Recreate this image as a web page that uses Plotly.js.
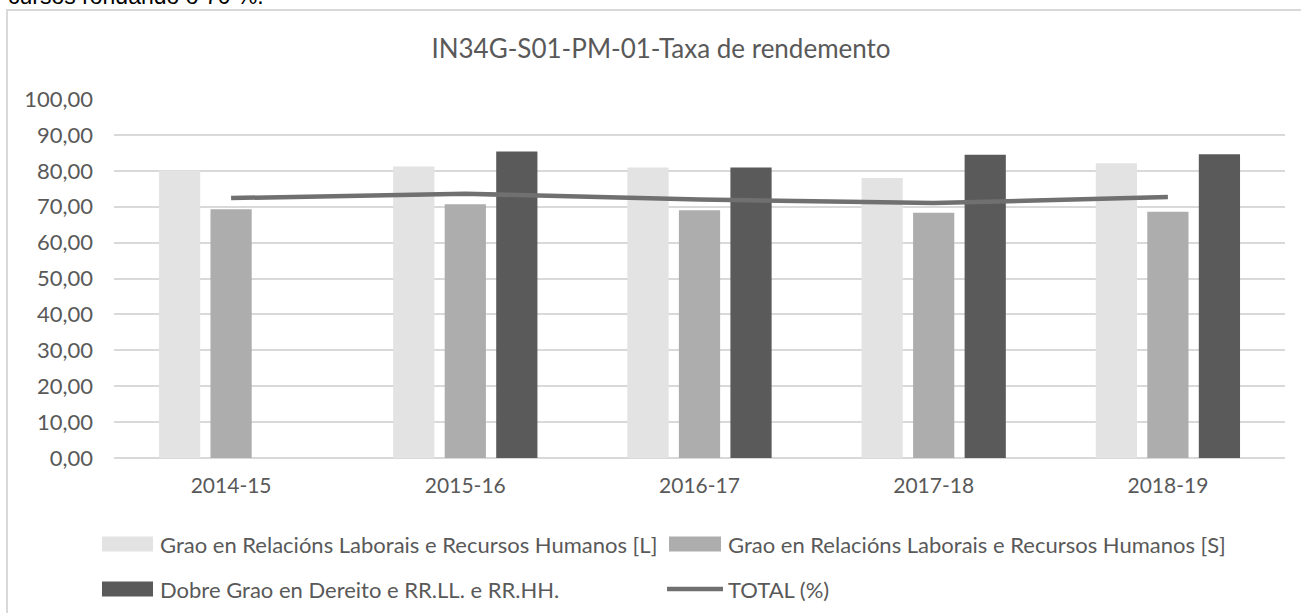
<!DOCTYPE html>
<html>
<head>
<meta charset="utf-8">
<script src="https://cdn.plot.ly/plotly-3.0.1.min.js"></script>
<style>html,body{margin:0;padding:0;background:#fff;}#chart{width:1301px;height:613px;}</style>
</head>
<body>
<div id="chart"></div>
<script>
// ---- data ----
const categories = ["2014-15", "2015-16", "2016-17", "2017-18", "2018-19"];
const seriesL = [80.1, 81.2, 80.9, 78.0, 82.1];
const seriesS = [69.3, 70.7, 69.0, 68.3, 68.6];
const seriesD = [null, 85.4, 80.9, 84.5, 84.6];
const seriesTotal = [72.4, 73.6, 72.0, 71.0, 72.7];
const names = [
  "Grao en Relacións Laborais e Recursos Humanos [L]",
  "Grao en Relacións Laborais e Recursos Humanos [S]",
  "Dobre Grao en Dereito e RR.LL. e RR.HH.",
  "TOTAL (%)"
];
const chartTitle = "IN34G-S01-PM-01-Taxa de rendemento";
const pageText = "cursos rondando o 70 %.";

// ---- styling ----
const W = 1301, H = 613;
const M = {l: 114, r: 16, t: 99, b: 155};
const PW = W - M.l - M.r, PH = H - M.t - M.b;
const px2x = p => (p - M.l) / PW;
const py2y = p => (H - M.b - p) / PH;
const FONT = "Lato, 'Open Sans', sans-serif";
const TXT = "#595959";
const cL = "#e3e3e3", cS = "#adadad", cD = "#5a5a5a", cT = "#707070";

const traces = [
  {type: "bar", name: names[0], x: categories, y: seriesL, marker: {color: cL}, showlegend: false, hoverinfo: "y"},
  {type: "bar", name: names[1], x: categories, y: seriesS, marker: {color: cS}, showlegend: false, hoverinfo: "y"},
  {type: "bar", name: names[2], x: categories, y: seriesD, marker: {color: cD}, showlegend: false, hoverinfo: "y"},
  {type: "scatter", mode: "lines", name: names[3], x: categories, y: seriesTotal,
   line: {color: cT, width: 4.5}, showlegend: false, hoverinfo: "y"}
];

// custom legend (wide Excel-style swatches)
const legendItems = [
  {sx0: 102, sx1: 153, tx: 158, cy: 544, color: cL, kind: "rect", text: names[0]},
  {sx0: 669, sx1: 721, tx: 726, cy: 544, color: cS, kind: "rect", text: names[1]},
  {sx0: 102, sx1: 153, tx: 158, cy: 589, color: cD, kind: "rect", text: names[2]},
  {sx0: 667, sx1: 723, tx: 726, cy: 589, color: cT, kind: "line", text: names[3]}
];
const shapes = [];
const annotations = [];
legendItems.forEach(it => {
  if (it.kind === "rect") {
    shapes.push({type: "rect", xref: "paper", yref: "paper",
      x0: px2x(it.sx0), x1: px2x(it.sx1), y0: py2y(it.cy + 7.5), y1: py2y(it.cy - 7.5),
      fillcolor: it.color, line: {width: 0}});
  } else {
    shapes.push({type: "line", xref: "paper", yref: "paper",
      x0: px2x(it.sx0), x1: px2x(it.sx1), y0: py2y(it.cy), y1: py2y(it.cy),
      line: {color: it.color, width: 4.5}});
  }
  annotations.push({xref: "paper", yref: "paper", x: px2x(it.tx), y: py2y(it.cy),
    xanchor: "left", yanchor: "middle", showarrow: false, text: it.text,
    font: {family: FONT, size: 22, color: TXT}});
});
// chart border
shapes.push({type: "rect", xref: "paper", yref: "paper",
  x0: px2x(7), x1: px2x(1330), y0: py2y(650), y1: py2y(10),
  line: {color: "#d9d9d9", width: 2}, fillcolor: "rgba(0,0,0,0)"});
// cropped page text above the chart
annotations.push({xref: "paper", yref: "paper", x: px2x(6), y: py2y(11),
  xanchor: "left", yanchor: "bottom", showarrow: false, text: pageText,
  font: {family: "'Liberation Sans', Arial, sans-serif", size: 23, color: "#000"}});

const layout = {
  width: W, height: H,
  margin: M,
  paper_bgcolor: "#fff", plot_bgcolor: "#fff",
  font: {family: FONT, size: 21, color: TXT},
  title: {text: chartTitle, font: {family: FONT, size: 26, color: TXT},
    xref: "container", yref: "container", x: 661 / W, xanchor: "center",
    y: 1 - 49 / H, yanchor: "middle"},
  barmode: "group", bargap: 0.34, bargroupgap: 0.2,
  xaxis: {type: "category", showgrid: false, showline: false, zeroline: false,
    ticks: "", tickfont: {family: FONT, size: 21, color: TXT}, ticklabelstandoff: 13,
    fixedrange: true},
  yaxis: {range: [0, 100], dtick: 10, tick0: 0, tickformat: ".2f",
    showgrid: true, gridcolor: "#d9d9d9", gridwidth: 2,
    zeroline: true, zerolinecolor: "#d9d9d9", zerolinewidth: 2,
    showline: false, ticks: "", ticklabelstandoff: 20,
    tickfont: {family: FONT, size: 22, color: TXT}, fixedrange: true},
  separators: ",.",
  showlegend: false,
  shapes: shapes,
  annotations: annotations
};

Plotly.newPlot("chart", traces, layout, {displayModeBar: false, staticPlot: true});
</script>
</body>
</html>
